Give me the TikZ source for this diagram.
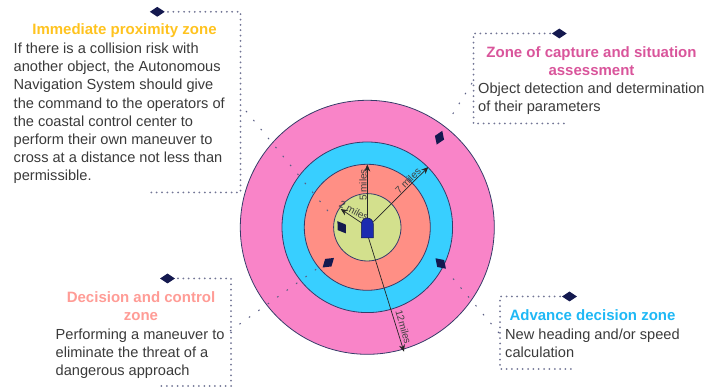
\documentclass[tikz,border=0pt]{standalone}
\usepackage{fontspec}
\setmainfont{Liberation Sans}
\usetikzlibrary{arrows.meta,shapes.geometric}
\definecolor{zonepink}{HTML}{F984C8}
\definecolor{zoneblue}{HTML}{38CFFF}
\definecolor{zonesalmon}{HTML}{FF8F85}
\definecolor{zonegreen}{HTML}{D3E08D}
\definecolor{navy}{HTML}{14194F}
\definecolor{hull}{HTML}{1C2BB0}
\definecolor{bodygray}{HTML}{3A3A3A}
\definecolor{headyellow}{HTML}{FFC31F}
\definecolor{headpink}{HTML}{D9559B}
\definecolor{headsalmon}{HTML}{FF9C96}
\definecolor{headblue}{HTML}{1FB8F5}
\tikzset{
  zone/.style={draw=navy!85, line width=0.8pt},
  frameline/.style={draw=navy!60, line width=2pt, line cap=round, dash pattern=on 0pt off 5.35pt},
  leaderline/.style={draw=navy!70, line width=1pt, dash pattern=on 1.6pt off 10pt},
  rangeline/.style={draw=black!85, line width=0.7pt, -{Stealth[length=7pt,width=6pt]}},
  rangelabel/.style={font=\fontsize{10}{10}\selectfont, text=black!75, inner sep=0pt},
  marker/.style={shape=diamond, fill=navy, inner sep=0pt, minimum width=15pt, minimum height=10pt},
  zonetitle/.style={font=\fontsize{15}{18.1}\selectfont\bfseries, align=center, inner sep=0pt},
  zonetext/.style={font=\fontsize{14.6}{18.1}\selectfont, text=bodygray, align=left, anchor=north west, inner sep=0pt}
}
\begin{document}
\begin{tikzpicture}[x=1pt,y=-1pt]
    \useasboundingbox (0,0) rectangle (705,387);
    \coordinate (c) at (367.3,227.3);
    % zones, outermost first
    \draw[zone, fill=zonepink] (c) circle (127pt);
    \draw[zone, fill=zoneblue] (c) circle (85.3pt);
    \draw[zone, fill=zonesalmon] (c) circle (63pt);
    \draw[zone, fill=zonegreen] (c) circle (33.7pt);
    % ranges of the zones
    \coordinate (r5a) at (367.3,227);
    \coordinate (r5b) at (367.3,164.5);
    \coordinate (r7a) at (373.3,221.7);
    \coordinate (r7b) at (428.3,167);
    \coordinate (r2a) at (361.7,223);
    \coordinate (r2b) at (340.7,209);
    \coordinate (r12a) at (367,233);
    \coordinate (r12b) at (404,351.7);
    \draw[rangeline] (r5a) -- (r5b);
    \draw[rangeline] (r7a) -- (r7b);
    \draw[rangeline] (r2a) -- (r2b);
    \draw[rangeline] (r12a) -- (r12b);
    \node[rangelabel, rotate=90] (l5) at (363,185) {5 miles};
    \node[rangelabel, rotate=45] (l7) at (408,181) {7 miles};
    \node[rangelabel, rotate=-28] (l2) at (354,210.5) {2 miles};
    \node[rangelabel, rotate=-74] (l12) at (403.5,327) {12miles};
    % own ship in the center
    \draw[draw=navy, fill=hull, line width=0.5pt] (361.3,238) -- (361.3,224)
      arc[start angle=180, end angle=0, radius=6pt] -- (373.3,238) -- cycle;
    % objects in the zones
    \node[marker, rotate=-55] (s1) at (341.7,227.3) {};
    \node[marker, rotate=40] (s2) at (328.3,262.7) {};
    \node[marker, rotate=-45] (s3) at (440.7,263.5) {};
    \node[marker, rotate=68] (s4) at (439.5,137.7) {};
    % immediate proximity zone
    \node[marker] (m1) at (157.3,11.8) {};
    \coordinate (f1a) at (168,11.8);
    \coordinate (f1b) at (240.5,11.8);
    \coordinate (f1c) at (240.5,192.5);
    \coordinate (f1d) at (151,192.5);
    \coordinate (e1a) at (246,111);
    \coordinate (e1b) at (332,216);
    \draw[frameline] (f1a) -- (f1b) -- (f1c) -- (f1d);
    \draw[leaderline] (e1a) -- (e1b);
    \node[zonetitle, text=headyellow] (t1) at (124.5,31) {Immediate proximity zone};
    \node[zonetext] (b1) at (13.5,43) {If there is a collision risk with\\another object, the Autonomous\\Navigation System should give\\the command to the operators of\\the coastal control center to\\perform their own maneuver to\\cross at a distance not less than\\permissible.};
    % zone of capture and situation assessment
    \node[marker] (m2) at (559.3,33.5) {};
    \coordinate (f2a) at (550,33.5);
    \coordinate (f2b) at (473.5,33.5);
    \coordinate (f2c) at (473.5,123.5);
    \coordinate (f2d) at (567,123.5);
    \coordinate (e2a) at (472,83);
    \coordinate (e2b) at (449,120);
    \draw[frameline] (f2a) -- (f2b) -- (f2c) -- (f2d);
    \draw[leaderline] (e2a) -- (e2b);
    \node[zonetitle, text=headpink] (t2) at (591.5,61.5) {Zone of capture and situation\\assessment};
    \node[zonetext] (b2) at (478,82.5) {Object detection and determination\\of their parameters};
    % decision and control zone
    \node[marker] (m3) at (167.5,278.5) {};
    \coordinate (f3a) at (178,278.5);
    \coordinate (f3b) at (231,278.5);
    \coordinate (f3c) at (231,386);
    \coordinate (f3d) at (161,386);
    \coordinate (e3a) at (230,331);
    \coordinate (e3b) at (318,268);
    \draw[frameline] (f3a) -- (f3b) -- (f3c) -- (f3d);
    \draw[leaderline] (e3a) -- (e3b);
    \node[zonetitle, text=headsalmon] (t3) at (141,306.5) {Decision and control\\zone};
    \node[zonetext] (b3) at (55.5,329) {Performing a maneuver to\\eliminate the threat of a\\dangerous approach};
    % advance decision zone
    \node[marker] (m4) at (569.5,296.5) {};
    \coordinate (f4a) at (560,296.5);
    \coordinate (f4b) at (500,296.5);
    \coordinate (f4c) at (500,369);
    \coordinate (f4d) at (576,369);
    \coordinate (e4a) at (499,333);
    \coordinate (e4b) at (450,275);
    \draw[frameline] (f4a) -- (f4b) -- (f4c) -- (f4d);
    \draw[leaderline] (e4a) -- (e4b);
    \node[zonetitle, text=headblue] (t4) at (592.5,315) {Advance decision zone};
    \node[zonetext] (b4) at (505,328.5) {New heading and/or speed\\calculation};
\end{tikzpicture}
\end{document}
